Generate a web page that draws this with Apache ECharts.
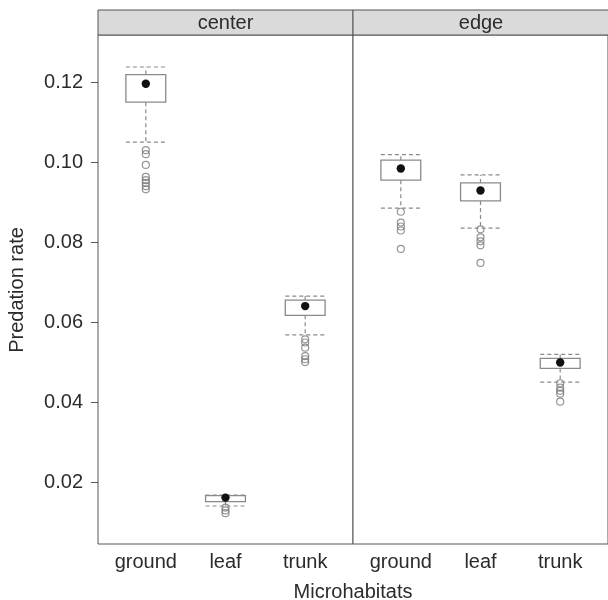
<!DOCTYPE html>
<html>
<head>
<meta charset="utf-8">
<script src="https://cdn.jsdelivr.net/npm/echarts@6/dist/echarts.min.js"></script>
<style>
  html, body { margin: 0; padding: 0; background: #fff; }
  #chart { width: 608px; height: 600px; }
</style>
</head>
<body>
<div id="chart"></div>
<script>
// Microhabitat categories and the two panels (site position)
const categories = ['ground', 'leaf', 'trunk'];
const panels = ['center', 'edge'];
const yTicks = [0.02, 0.04, 0.06, 0.08, 0.10, 0.12];

// Box statistics per microhabitat: [lower whisker, Q1, median, Q3, upper whisker]
const centerStats = [
  [0.1050, 0.1150, 0.1196, 0.1219, 0.1238],
  [0.0140, 0.0151, 0.0161, 0.0166, 0.0167],
  [0.0568, 0.0617, 0.0640, 0.0655, 0.0665]
];
const edgeStats = [
  [0.0885, 0.0955, 0.0984, 0.1005, 0.1019],
  [0.0835, 0.0903, 0.0929, 0.0948, 0.0968],
  [0.0450, 0.0484, 0.0499, 0.0509, 0.0519]
];

// Outlying values per microhabitat
const centerOutliers = [
  [0.1030, 0.1020, 0.0993, 0.0963, 0.0955, 0.0948, 0.0940, 0.0932],
  [0.0136, 0.0129, 0.0122],
  [0.0557, 0.0549, 0.0536, 0.0515, 0.0507, 0.0500]
];
const edgeOutliers = [
  [0.0876, 0.0849, 0.0839, 0.0829, 0.0783],
  [0.0832, 0.0812, 0.0802, 0.0792, 0.0748],
  [0.0447, 0.0436, 0.0428, 0.0421, 0.0401]
];

const FONT = '"Liberation Sans", Arial, Helvetica, sans-serif';
const TEXT = '#2b2b2b';
const FRAME = '#555';
const BOX_W = 0.5;     // box width in category units
const Y_MIN = 0.0045, Y_MAX = 0.1318;

function boxData(stats) {
  return stats.map((s, i) => [i + 1].concat(s));
}
function outlierData(groups) {
  const out = [];
  groups.forEach((vals, i) => vals.forEach(v => out.push([i + 1, v])));
  return out;
}

function renderBox(params, api) {
  const x = api.value(0);
  const low = api.value(1), q1 = api.value(2), med = api.value(3), q3 = api.value(4), high = api.value(5);
  const half = api.size([BOX_W, 0])[0] / 2;
  const pLow = api.coord([x, low]);
  const pQ1 = api.coord([x, q1]);
  const pMed = api.coord([x, med]);
  const pQ3 = api.coord([x, q3]);
  const pHigh = api.coord([x, high]);
  const cx = pMed[0];
  const dash = { stroke: '#8a8a8a', lineWidth: 1.2, lineDash: [4, 3], fill: null };
  return {
    type: 'group',
    children: [
      { type: 'line', shape: { x1: cx, y1: pQ3[1], x2: cx, y2: pHigh[1] }, style: dash },
      { type: 'line', shape: { x1: cx, y1: pQ1[1], x2: cx, y2: pLow[1] }, style: dash },
      { type: 'line', shape: { x1: cx - half, y1: pHigh[1], x2: cx + half, y2: pHigh[1] }, style: dash },
      { type: 'line', shape: { x1: cx - half, y1: pLow[1], x2: cx + half, y2: pLow[1] }, style: dash },
      { type: 'rect', shape: { x: cx - half, y: pQ3[1], width: 2 * half, height: pQ1[1] - pQ3[1] },
        style: { fill: 'rgba(255,255,255,0)', stroke: '#8a8a8a', lineWidth: 1.3 } },
      { type: 'circle', shape: { cx: cx, cy: pMed[1], r: 4.2 }, style: { fill: '#111' } }
    ]
  };
}

// The right panel runs slightly past the page edge, so its outer frame is not seen
const grids = [
  { left: 98, top: 35, width: 255, height: 509, show: true, borderColor: FRAME, borderWidth: 1, backgroundColor: '#fff' },
  { left: 353, top: 35, width: 257, height: 509, show: true, borderColor: FRAME, borderWidth: 1, backgroundColor: '#fff' }
];

const xAxes = [0, 1].map(i => ({
  type: 'value', gridIndex: i, min: 0.4, max: 3.6,
  axisLine: { show: false },
  axisTick: { show: false },
  splitLine: { show: false },
  axisLabel: {
    customValues: [1, 2, 3],
    formatter: v => categories[Math.round(v) - 1],
    fontFamily: FONT, fontSize: 20, color: TEXT, margin: 8
  }
}));

const yAxes = [0, 1].map(i => ({
  type: 'value', gridIndex: i, min: Y_MIN, max: Y_MAX,
  axisLine: { show: false },
  splitLine: { show: false },
  axisTick: i === 0
    ? { show: true, customValues: yTicks, length: 7, lineStyle: { color: FRAME, width: 1 } }
    : { show: false },
  axisLabel: i === 0
    ? { show: true, customValues: yTicks, formatter: v => v.toFixed(2),
        fontFamily: FONT, fontSize: 20, color: TEXT, margin: 15, padding: [4, 0, 0, 0] }
    : { show: false }
}));

const series = [];
[centerStats, edgeStats].forEach((stats, i) => {
  series.push({
    type: 'custom', xAxisIndex: i, yAxisIndex: i,
    renderItem: renderBox, data: boxData(stats), silent: true, z: 3
  });
});
[centerOutliers, edgeOutliers].forEach((groups, i) => {
  series.push({
    type: 'scatter', xAxisIndex: i, yAxisIndex: i,
    data: outlierData(groups), symbol: 'circle', symbolSize: 7,
    itemStyle: { color: 'rgba(255,255,255,0)', borderColor: '#7a7a7a', borderWidth: 1.2 },
    silent: true, z: 2
  });
});

const stripTop = 10, stripH = 25;
const graphic = [];
grids.forEach((g, i) => {
  graphic.push({
    type: 'rect', z: 10,
    shape: { x: g.left, y: stripTop, width: g.width, height: stripH },
    style: { fill: '#dadada', stroke: FRAME, lineWidth: 1 }
  });
  graphic.push({
    type: 'text', z: 11, x: i === 0 ? 225.5 : 481, y: stripTop + stripH / 2 + 0.5,
    style: { text: panels[i], font: '20px ' + FONT, fill: TEXT, align: 'center', verticalAlign: 'middle' }
  });
});
graphic.push({
  type: 'text', x: 353, y: 592,
  style: { text: 'Microhabitats', font: '20px ' + FONT, fill: TEXT, align: 'center', verticalAlign: 'middle' }
});
graphic.push({
  type: 'text', x: 17, y: 290, rotation: Math.PI / 2,
  style: { text: 'Predation rate', font: '20px ' + FONT, fill: TEXT, align: 'center', verticalAlign: 'middle' }
});

const chart = echarts.init(document.getElementById('chart'), null, { renderer: 'canvas' });
chart.setOption({
  animation: false,
  backgroundColor: '#fff',
  grid: grids,
  xAxis: xAxes,
  yAxis: yAxes,
  series: series,
  graphic: graphic
});
</script>
</body>
</html>
